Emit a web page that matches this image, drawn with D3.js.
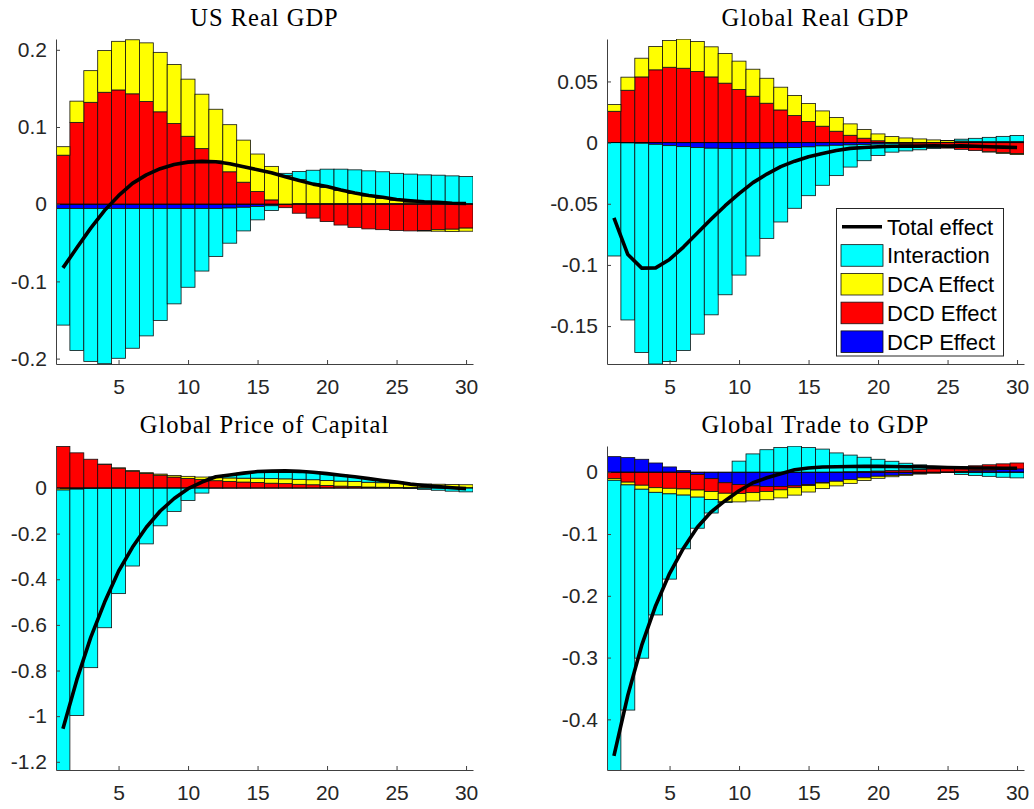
<!DOCTYPE html>
<html>
<head>
<meta charset="utf-8">
<script src="https://cdn.jsdelivr.net/npm/d3@7"></script>
<style>
  body { margin: 0; background: #fff; }
  svg { display: block; }
</style>
</head>
<body>
<svg id="svg" width="1034" height="809"></svg>
<script>
// horizon (quarters)
var periods = [1,2,3,4,5,6,7,8,9,10,11,12,13,14,15,16,17,18,19,20,21,22,23,24,25,26,27,28,29,30];
var xTicks = [5, 10, 15, 20, 25, 30];

// US Real GDP
var usDCP = [-0.0056,-0.0056,-0.0056,-0.0056,-0.0056,-0.0056,-0.0056,-0.0056,-0.0056,-0.0056,-0.0056,-0.0056,-0.005,-0.004,-0.003,-0.002,-0.0005,0.0008,0.0008,0.0008,0.0008,0.0008,0.0008,0.0008,0.0008,0.0008,0.0008,0.0008,0.0008,0.0008];
var usDCD = [0.0635,0.106,0.132,0.145,0.148,0.143,0.133,0.1197,0.1045,0.088,0.072,0.056,0.042,0.0285,0.0164,0.0056,-0.004,-0.0117,-0.018,-0.0225,-0.027,-0.030,-0.032,-0.033,-0.034,-0.0346,-0.034,-0.033,-0.0324,-0.031];
var usDCA = [0.011,0.0275,0.041,0.054,0.063,0.070,0.076,0.077,0.0765,0.074,0.0705,0.067,0.061,0.0545,0.0486,0.0434,0.037,0.031,0.026,0.021,0.017,0.013,0.010,0.007,0.0045,0.002,-0.0008,-0.002,-0.003,-0.004];
var usInt = [-0.151,-0.184,-0.198,-0.201,-0.194,-0.181,-0.165,-0.145,-0.1235,-0.102,-0.081,-0.062,-0.0455,-0.0306,-0.0173,-0.0062,0.003,0.0105,0.0172,0.0236,0.0276,0.0307,0.0324,0.0342,0.0347,0.0362,0.0372,0.0368,0.0359,0.0351];
var usTotal = [-0.0825,-0.0565,-0.031,-0.008,0.011,0.027,0.038,0.046,0.0515,0.0545,0.0555,0.055,0.0525,0.0484,0.0447,0.0408,0.0355,0.0306,0.026,0.0229,0.0184,0.0145,0.0112,0.009,0.006,0.0044,0.0032,0.0026,0.0013,0.0009];
var usYTicks = [-0.2, -0.1, 0, 0.1, 0.2];
var usYLim = [-0.207, 0.214];

// Global Real GDP
var glDCP = [0,-0.0002,-0.0005,-0.0014,-0.0025,-0.0033,-0.0041,-0.0046,-0.0049,-0.0049,-0.0049,-0.0046,-0.0044,-0.0041,-0.0035,-0.0027,-0.0022,-0.0019,-0.0015,-0.0012,-0.0009,-0.0006,-0.0004,-0.0002,0.0002,0.0005,0.0007,0.0008,0.0009,0.001];
var glDCD = [0.0256,0.0428,0.0537,0.0595,0.0616,0.0608,0.0581,0.0537,0.0486,0.0434,0.0379,0.0322,0.0267,0.0221,0.0172,0.0134,0.0093,0.006,0.0036,0.0015,0.0001,-0.0013,-0.0025,-0.0036,-0.0045,-0.0055,-0.0065,-0.0075,-0.0083,-0.009];
var glDCA = [0.0055,0.0107,0.0153,0.0191,0.0219,0.0238,0.0246,0.0246,0.0242,0.0232,0.0221,0.0204,0.0186,0.0164,0.0147,0.0125,0.0112,0.0093,0.0072,0.0056,0.0048,0.0038,0.003,0.0022,0.0014,0.0008,0.0003,-0.0002,-0.0005,-0.0008];
var glInt = [-0.0927,-0.1448,-0.1711,-0.1796,-0.1765,-0.1667,-0.1525,-0.1362,-0.1195,-0.1034,-0.0878,-0.0737,-0.0605,-0.0496,-0.0399,-0.0322,-0.0248,-0.0181,-0.0133,-0.0093,-0.0069,-0.0049,-0.003,-0.001,0.0001,0.0015,0.0025,0.0035,0.0042,0.0048];
var glTotal = [-0.0616,-0.0915,-0.1026,-0.1024,-0.0955,-0.0854,-0.0739,-0.0625,-0.0516,-0.0417,-0.0327,-0.0257,-0.0196,-0.0152,-0.0115,-0.009,-0.0065,-0.0047,-0.004,-0.0034,-0.003,-0.003,-0.0029,-0.0026,-0.0029,-0.0027,-0.003,-0.0034,-0.0037,-0.004];
var glYTicks = [-0.15, -0.1, -0.05, 0, 0.05];
var glYLim = [-0.181, 0.0847];

// Global Price of Capital
var pkDCP = [-0.002,-0.002,-0.0015,-0.0015,-0.001,-0.001,-0.001,-0.0008,-0.0006,-0.0005,-0.0004,-0.0003,-0.0002,-0.0002,-0.0001,-0.0001,0.0001,0.0001,0.0002,0.0002,0.0002,0.0002,0.0002,0.0002,0.0002,0.0002,0.0002,0.0002,0.0002,0.0002];
var pkDCD = [0.182,0.154,0.126,0.104,0.087,0.074,0.064,0.056,0.048,0.042,0.037,0.032,0.029,0.026,0.024,0.021,0.019,0.016,0.014,0.011,0.008,0.006,0.004,0.003,0.002,0.001,0.0005,0.0003,0.0002,0.0001];
var pkDCA = [-0.007,-0.003,-0.001,0.0003,0.001,0.002,0.003,0.005,0.007,0.009,0.011,0.013,0.015,0.017,0.019,0.020,0.021,0.022,0.022,0.022,0.022,0.022,0.021,0.020,0.019,0.018,0.017,0.016,0.015,0.014];
var pkInt = [-1.229,-0.992,-0.785,-0.611,-0.462,-0.341,-0.244,-0.165,-0.102,-0.054,-0.022,0.004,0.013,0.022,0.029,0.033,0.035,0.035,0.033,0.030,0.026,0.021,0.016,0.010,0.005,-0.002,-0.006,-0.010,-0.014,-0.017];
var pkTotal = [-1.055,-0.84,-0.655,-0.5,-0.365,-0.26,-0.172,-0.101,-0.046,-0.003,0.026,0.049,0.057,0.065,0.072,0.074,0.075,0.073,0.069,0.063,0.056,0.049,0.041,0.033,0.026,0.017,0.011,0.006,0.001,-0.003];
var pkYTicks = [-1.2, -1, -0.8, -0.6, -0.4, -0.2, 0];
var pkYLim = [-1.236, 0.184];

// Global Trade to GDP
var trDCP = [0.0253,0.0237,0.021,0.015,0.0086,0.0027,-0.0038,-0.0103,-0.017,-0.020,-0.022,-0.023,-0.023,-0.022,-0.020,-0.017,-0.0146,-0.012,-0.009,-0.0065,-0.005,-0.0035,-0.002,-0.001,0.0005,0.0015,0.0025,0.0035,0.0045,0.0055];
var trDCD = [-0.010,-0.016,-0.021,-0.025,-0.026,-0.027,-0.025,-0.021,-0.017,-0.0145,-0.011,-0.008,-0.0055,-0.003,-0.0015,-0.0005,0.0003,0.0008,0.0013,0.002,0.0028,0.0036,0.0045,0.0055,0.0063,0.0072,0.008,0.0086,0.0091,0.0095];
var trDCA = [-0.003,-0.0045,-0.0065,-0.0075,-0.009,-0.010,-0.0115,-0.0128,-0.014,-0.0135,-0.0135,-0.0135,-0.013,-0.012,-0.0105,-0.009,-0.0075,-0.006,-0.0045,-0.0033,-0.0023,-0.0015,-0.001,-0.0005,-0.0002,-0.0001,-0.0001,-0.0001,-0.0001,-0.0001];
var trInt = [-0.471,-0.3645,-0.2735,-0.1985,-0.138,-0.087,-0.0503,-0.0219,-0.001,0.018,0.0297,0.0365,0.040,0.0422,0.040,0.0375,0.031,0.027,0.023,0.019,0.015,0.011,0.0075,0.004,0.001,-0.0035,-0.005,-0.0065,-0.008,-0.009];
var trTotal = [-0.459,-0.361,-0.28,-0.216,-0.164,-0.123,-0.089,-0.064,-0.046,-0.030,-0.017,-0.009,-0.0025,0.004,0.0068,0.0085,0.009,0.0093,0.0095,0.0095,0.0093,0.009,0.0088,0.0083,0.0078,0.0072,0.007,0.0068,0.0066,0.0065];
var trYTicks = [-0.4, -0.3, -0.2, -0.1, 0];
var trYLim = [-0.482, 0.0425];

var legendLabels = ["Total effect", "Interaction", "DCA Effect", "DCD Effect", "DCP Effect"];

// stacking order as drawn (blue first, cyan last)
var keys = ["dcp", "dcd", "dca", "int"];
var colors = { dcp: "#0000ff", dcd: "#ff0000", dca: "#ffff00", int: "#00ffff" };

var panels = [
  { title: "US Real GDP", dcp: usDCP, dcd: usDCD, dca: usDCA, int: usInt, total: usTotal, yTicks: usYTicks, yLim: usYLim, box: [56, 39, 473, 364] },
  { title: "Global Real GDP", dcp: glDCP, dcd: glDCD, dca: glDCA, int: glInt, total: glTotal, yTicks: glYTicks, yLim: glYLim, box: [607, 39, 1024, 364], legend: true },
  { title: "Global Price of Capital", dcp: pkDCP, dcd: pkDCD, dca: pkDCA, int: pkInt, total: pkTotal, yTicks: pkYTicks, yLim: pkYLim, box: [56, 446, 473, 770] },
  { title: "Global Trade to GDP", dcp: trDCP, dcd: trDCD, dca: trDCA, int: trInt, total: trTotal, yTicks: trYTicks, yLim: trYLim, box: [607, 446, 1024, 770] }
];

var svg = d3.select("#svg");
var tickFont = "'Liberation Sans', Arial, Helvetica, sans-serif";

panels.forEach(function(p, pi) {
  var x0 = p.box[0], y0 = p.box[1], x1 = p.box[2], y1 = p.box[3];

  var x = d3.scaleLinear().domain([0.5, 30.5]).range([x0, x1]);
  var y = d3.scaleLinear().domain(p.yLim).range([y1, y0]);

  var rows = periods.map(function(t, i) {
    return { t: t, dcp: p.dcp[i], dcd: p.dcd[i], dca: p.dca[i], int: p.int[i] };
  });
  var layers = d3.stack().keys(keys).offset(d3.stackOffsetDiverging)(rows);

  var clipId = "clip" + pi;
  svg.append("clipPath").attr("id", clipId)
    .append("rect").attr("x", x0).attr("y", y0).attr("width", x1 - x0).attr("height", y1 - y0);

  var g = svg.append("g").attr("clip-path", "url(#" + clipId + ")");

  layers.forEach(function(layer) {
    g.append("g")
      .selectAll("rect")
      .data(layer)
      .join("rect")
        .attr("x", function(d) { return x(d.data.t - 0.5); })
        .attr("width", function(d) { return x(d.data.t + 0.5) - x(d.data.t - 0.5); })
        .attr("y", function(d) { return y(Math.max(d[0], d[1])); })
        .attr("height", function(d) { return Math.abs(y(d[0]) - y(d[1])); })
        .attr("fill", colors[layer.key])
        .attr("stroke", "#111")
        .attr("stroke-width", 0.8);
  });

  // bar baseline
  g.append("line")
    .attr("x1", x0).attr("x2", x1)
    .attr("y1", y(0)).attr("y2", y(0))
    .attr("stroke", "#000").attr("stroke-width", 0.8);

  // total effect
  var line = d3.line()
    .x(function(d, i) { return x(periods[i]); })
    .y(function(d) { return y(d); });
  g.append("path")
    .datum(p.total)
    .attr("d", line)
    .attr("fill", "none")
    .attr("stroke", "#000")
    .attr("stroke-width", 3.6)
    .attr("stroke-linejoin", "round");

  // axes (MATLAB style: ticks inside, no box)
  var yAxis = d3.axisLeft(y).tickValues(p.yTicks).tickSizeInner(-4).tickSizeOuter(0).tickPadding(9)
    .tickFormat(function(d) { return String(d); });
  var ya = svg.append("g").attr("transform", "translate(" + x0 + ",0)").call(yAxis);

  var xAxis = d3.axisBottom(x).tickValues(xTicks).tickSizeInner(-4).tickSizeOuter(0).tickPadding(15)
    .tickFormat(d3.format("d"));
  var xa = svg.append("g").attr("transform", "translate(0," + y1 + ")").call(xAxis);

  [ya, xa].forEach(function(a) {
    a.select(".domain").attr("stroke", "#404040").attr("stroke-width", 1);
    a.selectAll(".tick line").attr("stroke", "#404040");
    a.selectAll("text").attr("fill", "#262626").style("font-family", tickFont).style("font-size", "21px");
  });

  svg.append("text")
    .attr("x", (x0 + x1) / 2)
    .attr("y", y0 - 13)
    .attr("text-anchor", "middle")
    .style("font-family", "'Liberation Serif', 'Times New Roman', serif")
    .style("font-size", "24.5px")
    .style("letter-spacing", "1px")
    .attr("fill", "#000")
    .text(p.title);

  if (p.legend) {
    var lg = svg.append("g");
    lg.append("rect")
      .attr("x", 836.5).attr("y", 208.5).attr("width", 167).attr("height", 147.5)
      .attr("fill", "#fff").attr("stroke", "#262626").attr("stroke-width", 1);
    var legendKeys = ["total", "int", "dca", "dcd", "dcp"];
    legendKeys.forEach(function(k, i) {
      var cy = 226.7 + i * 28.75;
      if (k === "total") {
        lg.append("line").attr("x1", 842).attr("x2", 882).attr("y1", cy).attr("y2", cy)
          .attr("stroke", "#000").attr("stroke-width", 3.6);
      } else {
        lg.append("rect").attr("x", 841).attr("y", cy - 10.8).attr("width", 42).attr("height", 21.6)
          .attr("fill", colors[k]).attr("stroke", "#111").attr("stroke-width", 0.8);
      }
      lg.append("text")
        .attr("x", 887).attr("y", cy).attr("dy", "0.36em")
        .style("font-family", tickFont).style("font-size", "22px")
        .attr("fill", "#000")
        .text(legendLabels[i]);
    });
  }
});
</script>
</body>
</html>
